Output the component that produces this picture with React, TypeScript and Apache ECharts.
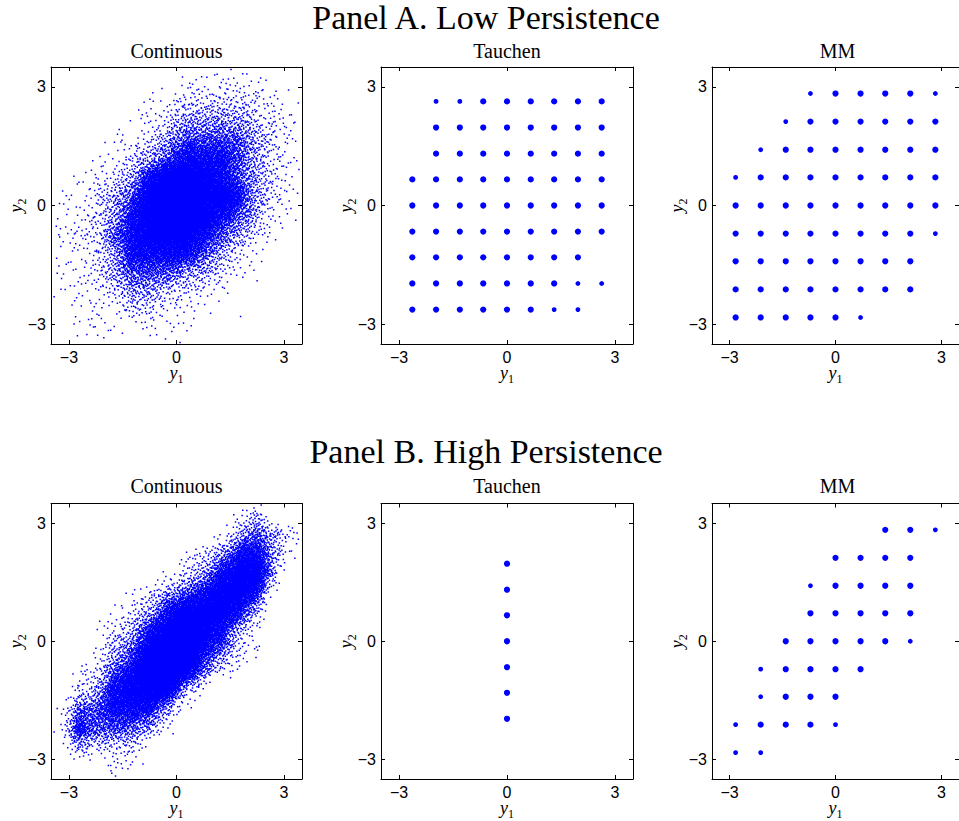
import React, { useEffect, useRef } from "react";
import * as echarts from "echarts";

// ---------------- data ----------------
const PANEL_TITLES = ["Panel A. Low Persistence", "Panel B. High Persistence"];
const METHOD_TITLES = ["Continuous", "Tauchen", "MM"];
const AXIS_MIN = -3.5;
const AXIS_MAX = 3.5;
const TICKS = [-3, 0, 3];

// Tauchen grid rows: [y2, list of y1 values]
const TAUCHEN_A_ROWS: [number, number[]][] = [
  [2.63, [-1.97, -1.31, -0.66, 0, 0.66, 1.31, 1.97, 2.63]],
  [1.97, [-1.97, -1.31, -0.66, 0, 0.66, 1.31, 1.97, 2.63]],
  [1.31, [-1.97, -1.31, -0.66, 0, 0.66, 1.31, 1.97, 2.63]],
  [0.66, [-2.63, -1.97, -1.31, -0.66, 0, 0.66, 1.31, 1.97, 2.63]],
  [0, [-2.63, -1.97, -1.31, -0.66, 0, 0.66, 1.31, 1.97, 2.63]],
  [-0.66, [-2.63, -1.97, -1.31, -0.66, 0, 0.66, 1.31, 1.97, 2.63]],
  [-1.31, [-2.63, -1.97, -1.31, -0.66, 0, 0.66, 1.31, 1.97]],
  [-1.97, [-2.63, -1.97, -1.31, -0.66, 0, 0.66, 1.31, 1.97, 2.63]],
  [-2.63, [-2.63, -1.97, -1.31, -0.66, 0, 0.66, 1.31, 1.97]],
];
const TAUCHEN_A_LIGHT: [number, number][] = [
  [-1.97, 2.63], [-1.31, 2.63], [1.97, -1.97], [2.63, -1.97], [1.31, -2.63], [1.97, -2.63],
];

const MM_A_ROWS: [number, number[]][] = [
  [2.83, [-0.71, 0, 0.71, 1.41, 2.12, 2.83]],
  [2.12, [-1.41, -0.71, 0, 0.71, 1.41, 2.12, 2.83]],
  [1.41, [-2.12, -1.41, -0.71, 0, 0.71, 1.41, 2.12, 2.83]],
  [0.71, [-2.83, -2.12, -1.41, -0.71, 0, 0.71, 1.41, 2.12, 2.83]],
  [0, [-2.83, -2.12, -1.41, -0.71, 0, 0.71, 1.41, 2.12, 2.83]],
  [-0.71, [-2.83, -2.12, -1.41, -0.71, 0, 0.71, 1.41, 2.12, 2.83]],
  [-1.41, [-2.83, -2.12, -1.41, -0.71, 0, 0.71, 1.41, 2.12]],
  [-2.12, [-2.83, -2.12, -1.41, -0.71, 0, 0.71, 1.41, 2.12]],
  [-2.83, [-2.83, -2.12, -1.41, -0.71, 0, 0.71]],
];
const MM_A_LIGHT: [number, number][] = [
  [-0.71, 2.83], [2.83, 2.83], [-1.41, 2.12], [-2.12, 1.41], [-2.83, 0.71], [2.83, -0.71], [0.71, -2.83],
];

const TAUCHEN_B_ROWS: [number, number[]][] = [
  [1.97, [0]], [1.31, [0]], [0.66, [0]], [0, [0]], [-0.66, [0]], [-1.31, [0]], [-1.97, [0]],
];
const TAUCHEN_B_LIGHT: [number, number][] = [];

const MM_B_ROWS: [number, number[]][] = [
  [2.83, [1.41, 2.12, 2.83]],
  [2.12, [0, 0.71, 1.41, 2.12]],
  [1.41, [-0.71, 0, 0.71, 1.41, 2.12]],
  [0.71, [-0.71, 0, 0.71, 1.41, 2.12]],
  [0, [-1.41, -0.71, 0, 0.71, 1.41, 2.12]],
  [-0.71, [-2.12, -1.41, -0.71, 0, 0.71]],
  [-1.41, [-2.12, -1.41, -0.71, 0]],
  [-2.12, [-2.83, -2.12, -1.41, -0.71, 0]],
  [-2.83, [-2.83, -2.12]],
];
const MM_B_LIGHT: [number, number][] = [
  [2.83, 2.83], [2.12, 0], [-0.71, 1.41], [-2.12, -0.71], [-2.12, -1.41], [0, -2.12],
  [-2.83, -2.12], [-2.83, -2.83], [-2.12, -2.83],
];

// Continuous simulations: density level per 0.5 x 0.5 cell
// rows: y2 from 3.25 (top) to -3.25 (bottom); columns: y1 from -3.25 to 3.25
const CONT_A_DENSITY: number[][] = [
  [0, 0, 0, 0, 0, 0, 0, 1, 1, 1, 1, 1, 0, 0],
  [0, 0, 0, 0, 0, 1, 1, 2, 2, 2, 2, 2, 1, 1],
  [0, 0, 0, 0, 1, 1, 2, 3, 3, 3, 3, 2, 2, 1],
  [0, 0, 0, 1, 1, 2, 3, 4, 4, 4, 4, 3, 2, 1],
  [0, 0, 1, 1, 2, 3, 4, 5, 5, 5, 4, 3, 2, 1],
  [0, 1, 1, 2, 3, 5, 6, 6, 6, 5, 4, 3, 2, 1],
  [1, 1, 2, 3, 4, 6, 7, 7, 6, 6, 5, 3, 2, 1],
  [1, 1, 2, 3, 5, 6, 7, 7, 6, 5, 4, 3, 1, 1],
  [1, 2, 2, 4, 5, 6, 6, 6, 5, 4, 3, 2, 1, 0],
  [1, 1, 2, 3, 5, 5, 5, 5, 4, 3, 2, 1, 0, 0],
  [1, 1, 2, 3, 4, 4, 4, 3, 3, 2, 1, 1, 0, 0],
  [1, 1, 1, 2, 3, 3, 2, 2, 1, 1, 0, 0, 0, 0],
  [0, 1, 1, 1, 2, 2, 1, 1, 1, 0, 1, 0, 0, 0],
  [0, 1, 1, 1, 0, 1, 1, 1, 0, 0, 0, 0, 0, 0],
];
const CONT_B_DENSITY: number[][] = [
  [0, 0, 0, 0, 0, 0, 0, 0, 0, 0, 1, 3, 0, 0],
  [0, 0, 0, 0, 0, 0, 0, 0, 0, 1, 3, 4, 3, 2],
  [0, 0, 0, 0, 0, 0, 0, 1, 2, 3, 5, 5, 3, 1],
  [0, 0, 0, 0, 0, 0, 1, 2, 3, 5, 6, 6, 3, 0],
  [0, 0, 0, 0, 1, 2, 3, 4, 5, 6, 6, 5, 1, 0],
  [0, 0, 0, 1, 2, 3, 5, 6, 6, 6, 5, 3, 0, 0],
  [0, 0, 1, 2, 3, 5, 6, 7, 6, 5, 3, 1, 0, 0],
  [0, 0, 1, 3, 4, 6, 7, 7, 5, 4, 2, 1, 0, 0],
  [0, 1, 2, 4, 5, 7, 7, 6, 4, 2, 1, 0, 0, 0],
  [0, 2, 3, 5, 6, 6, 6, 3, 1, 0, 0, 0, 0, 0],
  [1, 4, 4, 5, 5, 5, 3, 1, 0, 0, 0, 0, 0, 0],
  [1, 5, 4, 4, 4, 3, 1, 0, 0, 0, 0, 0, 0, 0],
  [0, 3, 2, 2, 2, 1, 0, 0, 0, 0, 0, 0, 0, 0],
  [0, 0, 0, 2, 1, 0, 0, 0, 0, 0, 0, 0, 0, 0],
];
// simulated points per cell for each density level
const LEVEL_COUNTS = [0, 6, 22, 60, 150, 340, 720, 1400];

// ---------------- helpers ----------------
function rowsToPoints(rows: [number, number[]][]): number[][] {
  const out: number[][] = [];
  rows.forEach(([y, xs]) => xs.forEach((x) => out.push([x, y])));
  return out;
}

function radicalInverse(i: number, b: number): number {
  let f = 1;
  let r = 0;
  while (i > 0) {
    f /= b;
    r += f * (i % b);
    i = Math.floor(i / b);
  }
  return r;
}

// Deterministic low-discrepancy (Halton) dithering of the read density map
function cloudFromDensity(grid: number[][]): number[][] {
  const nRows = grid.length;
  const nCols = grid[0].length;
  const span = AXIS_MAX - AXIS_MIN;
  const cw = span / nCols;
  const ch = span / nRows;
  const lvl = (r: number, c: number) => {
    if (r < 0 || r >= nRows || c < 0 || c >= nCols) return -1;
    const v = grid[r][c];
    return v === 0 ? -1 : v;
  };
  const countAt = (L: number) => {
    if (L <= 0) return 0;
    if (L < 1) return LEVEL_COUNTS[1] * L;
    const lo = Math.floor(L);
    const hi = Math.min(lo + 1, LEVEL_COUNTS.length - 1);
    const t = L - lo;
    return Math.exp(Math.log(LEVEL_COUNTS[lo]) * (1 - t) + Math.log(LEVEL_COUNTS[hi]) * t);
  };
  const maxC = LEVEL_COUNTS[LEVEL_COUNTS.length - 1];
  const total = nRows * nCols * maxC;
  const pts: number[][] = [];
  for (let i = 1; i <= total; i++) {
    const x = AXIS_MIN + span * radicalInverse(i, 2);
    const y = AXIS_MIN + span * radicalInverse(i, 3);
    const fc = (x - AXIS_MIN) / cw - 0.5;
    const fr = (AXIS_MAX - y) / ch - 0.5;
    const c0 = Math.floor(fc), r0 = Math.floor(fr);
    const tx = fc - c0, ty = fr - r0;
    const L =
      lvl(r0, c0) * (1 - tx) * (1 - ty) +
      lvl(r0, c0 + 1) * tx * (1 - ty) +
      lvl(r0 + 1, c0) * (1 - tx) * ty +
      lvl(r0 + 1, c0 + 1) * tx * ty;
    if (L <= 0) continue;
    const w = radicalInverse(i, 5);
    if (w < countAt(L) / maxC) pts.push([Math.round(x * 1000) / 1000, Math.round(y * 1000) / 1000]);
  }
  return pts;
}

// ---------------- layout ----------------
const GRID_LEFTS = [51, 381, 712];
const GRID_WIDTHS = [251, 252, 251];
const ROW_TOPS = [67, 503.5];
const ROW_HEIGHTS = [277, 278];
const PANEL_TITLE_Y = [17.5, 451];
const METHOD_TITLE_Y = [50.8, 486];

const BLUE = "#0000ff";
const SERIF = '"Liberation Serif", "Times New Roman", serif';
const SANS = '"Liberation Sans", Arial, sans-serif';

const nameRich = {
  i: {
    fontFamily: SERIF, fontStyle: "italic", fontSize: 18, lineHeight: 18, color: "#000",
    padding: [0, 0, 3, 0], verticalAlign: "bottom",
  },
  s: {
    fontFamily: SERIF, fontSize: 12, lineHeight: 12, color: "#000",
    padding: [7, 0, 0, 0], verticalAlign: "bottom",
  },
};

const fmt = (v: number) => String(v).replace("-", "\u2212");

function buildOption() {
  const panels = [
    { kind: "cloud", data: cloudFromDensity(CONT_A_DENSITY), light: [] as [number, number][] },
    { kind: "grid", data: rowsToPoints(TAUCHEN_A_ROWS), light: TAUCHEN_A_LIGHT },
    { kind: "grid", data: rowsToPoints(MM_A_ROWS), light: MM_A_LIGHT },
    { kind: "cloud", data: cloudFromDensity(CONT_B_DENSITY), light: [] as [number, number][] },
    { kind: "grid", data: rowsToPoints(TAUCHEN_B_ROWS), light: TAUCHEN_B_LIGHT },
    { kind: "grid", data: rowsToPoints(MM_B_ROWS), light: MM_B_LIGHT },
  ];

  const grids: any[] = [];
  const xAxes: any[] = [];
  const yAxes: any[] = [];
  const series: any[] = [];
  const graphics: any[] = [];

  panels.forEach((p, k) => {
    const row = Math.floor(k / 3);
    const col = k % 3;
    grids.push({
      left: GRID_LEFTS[col],
      width: GRID_WIDTHS[col],
      top: ROW_TOPS[row],
      height: ROW_HEIGHTS[row],
      containLabel: false,
    });
    const common = {
      type: "value",
      gridIndex: k,
      min: AXIS_MIN,
      max: AXIS_MAX,
      splitLine: { show: false },
      axisLine: { show: true, onZero: false, lineStyle: { color: "#000", width: 1 } },
      axisTick: { show: true, inside: true, length: 4, customValues: TICKS, lineStyle: { color: "#000" } },
    };
    xAxes.push({
      ...common,
      position: "bottom",
      axisLabel: {
        show: true, customValues: TICKS, formatter: fmt, margin: 5,
        fontFamily: SANS, fontSize: 16, color: "#000",
      },
      name: "{i|y}{s|1}",
      nameLocation: "middle",
      nameGap: 23,
      nameMoveOverlap: false,
      nameTextStyle: { rich: nameRich },
    });
    xAxes.push({ ...common, position: "top", axisLabel: { show: false } });
    yAxes.push({
      ...common,
      position: "left",
      axisLabel: { show: true, customValues: TICKS, formatter: fmt, margin: 5, fontFamily: SANS, fontSize: 16, color: "#000" },
      name: "{i|y}{s|2}",
      nameLocation: "middle",
      nameRotate: 90,
      nameGap: 23.5,
      nameMoveOverlap: false,
      nameTextStyle: { rich: nameRich },
    });
    yAxes.push({ ...common, position: "right", axisLabel: { show: false } });

    if (p.kind === "cloud") {
      series.push({
        type: "scatter",
        xAxisIndex: 2 * k,
        yAxisIndex: 2 * k,
        data: p.data,
        symbol: "rect",
        symbolSize: 1.5,
        large: true,
        largeThreshold: 1000,
        progressive: 0,
        itemStyle: { color: BLUE, opacity: 1 },
        silent: true,
      });
    } else {
      const isLight = (v: number[]) => p.light.some((q) => q[0] === v[0] && q[1] === v[1]);
      series.push({
        type: "scatter",
        xAxisIndex: 2 * k,
        yAxisIndex: 2 * k,
        data: p.data,
        symbol: "circle",
        symbolSize: (v: number[]) => (isLight(v) ? 4.8 : 6.2),
        itemStyle: { color: BLUE, opacity: 1 },
        silent: true,
      });
    }

    graphics.push({
      type: "text",
      x: GRID_LEFTS[col] + GRID_WIDTHS[col] / 2,
      y: METHOD_TITLE_Y[row],
      style: {
        text: METHOD_TITLES[col],
        font: `20px ${SERIF}`,
        fill: "#000",
        textAlign: "center",
        textVerticalAlign: "middle",
        align: "center",
        verticalAlign: "middle",
      },
    });
  });

  PANEL_TITLES.forEach((t, r) => {
    graphics.push({
      type: "text",
      x: 486,
      y: PANEL_TITLE_Y[r],
      style: {
        text: t,
        font: `34px ${SERIF}`,
        fill: "#000",
        textAlign: "center",
        textVerticalAlign: "middle",
        align: "center",
        verticalAlign: "middle",
      },
    });
  });

  return {
    animation: false,
    backgroundColor: "#fff",
    grid: grids,
    xAxis: xAxes,
    yAxis: yAxes,
    series,
    graphic: graphics,
  };
}

export default function App() {
  const ref = useRef<HTMLDivElement>(null);
  useEffect(() => {
    if (!ref.current) return;
    const chart = echarts.init(ref.current, undefined, { renderer: "svg" });
    chart.setOption(buildOption() as any);
    return () => chart.dispose();
  }, []);
  return (
    <div
      ref={ref}
      style={{ position: "absolute", left: 0, top: 0, width: 959, height: 821, background: "#fff" }}
    />
  );
}
